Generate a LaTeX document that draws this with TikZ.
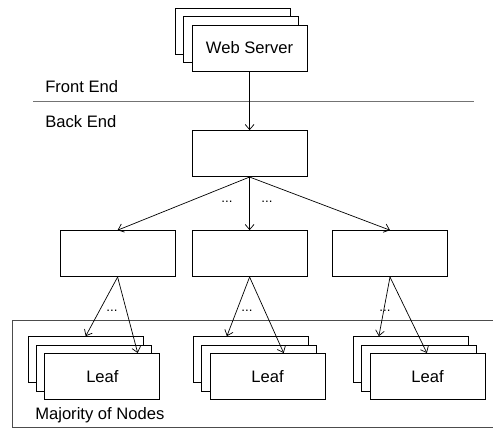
\documentclass[tikz,border=0pt]{standalone}
\usepackage{fontspec}
\setmainfont{Liberation Sans}
\usetikzlibrary{arrows.meta, positioning}
\tikzset{
  tierbox/.style={draw=black,fill=white,line width=0.6pt,minimum width=2.875cm,minimum height=1.15cm,inner sep=0pt,font=\fontsize{11.8}{14}\selectfont},
  areabox/.style={draw=black!70,line width=0.6pt,minimum width=12.3cm,minimum height=2.67cm,inner sep=0pt},
  tierlabel/.style={anchor=west,inner sep=0pt,font=\fontsize{11.8}{14}\selectfont},
  dotlabel/.style={inner sep=0pt,font=\fontsize{9.5}{11}\selectfont},
  diredge/.style={-{Straight Barb[length=1.3mm,width=2.2mm]},line width=0.5pt,black},
  sepline/.style={draw=black!55,line width=0.8pt},
}

\begin{document}
\begin{tikzpicture}
  \useasboundingbox (0,0) rectangle (12.325,-10.725);
  % leaf area
  \node[areabox] (nMajority) at (6.45,-9.355) {};
  \node[tierlabel] (nMajorityLbl) at (0.875,-10.375) {Majority of Nodes};
  % front end / back end split
  \coordinate (nSepL) at (0.83,-2.54);
  \coordinate (nSepR) at (11.85,-2.54);
  \draw[sepline] (nSepL) -- (nSepR);
  \node[tierlabel] (nFront) at (1.125,-2.17) {Front End};
  \node[tierlabel] (nBack) at (1.125,-3.04) {Back End};
  % web servers
  \node[tierbox] (nWebBack) at (5.82,-0.78) {};
  \node[tierbox] (nWebMid) at (6.03,-0.99) {};
  \node[tierbox] (nWeb) at (6.24,-1.20) {Web Server};
  % root and mid tier
  \node[tierbox] (nRoot) at (6.24,-3.84) {};
  \node[tierbox] (nMidL) at (2.94,-6.34) {};
  \node[tierbox] (nMidC) at (6.24,-6.34) {};
  \node[tierbox] (nMidR) at (9.75,-6.34) {};
  % leaves
  \node[tierbox] (nLeafLBack) at (2.14,-8.99) {};
  \node[tierbox] (nLeafLMid) at (2.35,-9.20) {};
  \node[tierbox] (nLeafL) at (2.56,-9.41) {Leaf};
  \node[tierbox] (nLeafCBack) at (6.27,-8.99) {};
  \node[tierbox] (nLeafCMid) at (6.48,-9.20) {};
  \node[tierbox] (nLeafC) at (6.69,-9.41) {Leaf};
  \node[tierbox] (nLeafRBack) at (10.27,-8.99) {};
  \node[tierbox] (nLeafRMid) at (10.48,-9.20) {};
  \node[tierbox] (nLeafR) at (10.69,-9.41) {Leaf};
  % elided fan-out
  \node[dotlabel] (nDotsA) at (5.675,-5.05) {...};
  \node[dotlabel] (nDotsB) at (6.675,-5.05) {...};
  \node[dotlabel] (nDotsL) at (2.80,-7.775) {...};
  \node[dotlabel] (nDotsC) at (6.175,-7.775) {...};
  \node[dotlabel] (nDotsR) at (9.625,-7.775) {...};
  % edges
  \draw[diredge] (nWeb) -- (nRoot);
  \draw[diredge] (nRoot.south) -- (nMidL.north);
  \draw[diredge] (nRoot.south) -- (nMidC.north);
  \draw[diredge] (nRoot.south) -- (nMidR.north);
  \draw[diredge] (nMidL.south) -- ([xshift=1.45cm]nLeafLBack.north west);
  \draw[diredge] (nMidL.south) -- ([xshift=2.33cm]nLeafL.north west);
  \draw[diredge] (nMidC.south) -- ([xshift=0.85cm]nLeafCBack.north west);
  \draw[diredge] (nMidC.south) -- ([xshift=1.85cm]nLeafC.north west);
  \draw[diredge] (nMidR.south) -- ([xshift=0.65cm]nLeafRBack.north west);
  \draw[diredge] (nMidR.south) -- ([xshift=1.43cm]nLeafR.north west);
\end{tikzpicture}
\end{document}
